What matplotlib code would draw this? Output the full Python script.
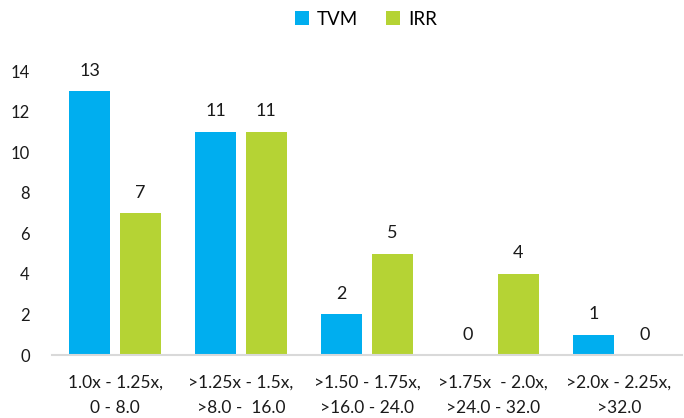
import matplotlib
matplotlib.use("Agg")
import matplotlib.pyplot as plt
import numpy as np

categories = ["1.0x - 1.25x,\n0 - 8.0", ">1.25x - 1.5x,\n>8.0 -  16.0",
              ">1.50 - 1.75x,\n>16.0 - 24.0", ">1.75x  - 2.0x,\n>24.0 - 32.0",
              ">2.0x - 2.25x,\n>32.0"]
tvm = [13, 11, 2, 0, 1]
irr = [7, 11, 5, 4, 0]
yticks = [0, 2, 4, 6, 8, 10, 12, 14]

plt.rcParams['font.family'] = ['Lato', 'DejaVu Sans']

fig = plt.figure(figsize=(6.84, 4.18), dpi=100)
ax = fig.add_axes([52/684, 1-355/418, 630/684, (355-71)/418])

x = np.arange(len(categories))
w = 0.325
off = 0.2
c_tvm = "#00AEEF"
c_irr = "#B5D334"
b1 = ax.bar(x - off, tvm, w, color=c_tvm, label="TVM")
b2 = ax.bar(x + off, irr, w, color=c_irr, label="IRR")

for bars, vals in ((b1, tvm), (b2, irr)):
    for rect, v in zip(bars, vals):
        ax.annotate(str(v), (rect.get_x() + rect.get_width()/2, v),
                    xytext=(0, 9), textcoords="offset points",
                    ha="center", va="bottom", fontsize=13, color="#1a1a1a",
                    annotation_clip=False)

ax.set_xlim(-0.5, len(categories) - 0.5)
ax.set_ylim(0, 14)
ax.set_yticks(yticks)
ax.set_yticklabels([str(t) for t in yticks], fontsize=12, color="#1a1a1a")
ax.set_xticks(x)
ax.set_xticklabels(categories, fontsize=12.5, color="#1a1a1a", linespacing=1.7)
ax.tick_params(axis="both", length=0)
ax.tick_params(axis="y", pad=16)
ax.tick_params(axis="x", pad=14)
for s in ("top", "right", "left"):
    ax.spines[s].set_visible(False)
ax.spines["bottom"].set_color("#D9D9D9")
ax.spines["bottom"].set_linewidth(1.5)

fig.legend(handles=[b1, b2], labels=["TVM", "IRR"], loc="upper center",
           bbox_to_anchor=(0.535, 1.015), ncol=2, frameon=False, fontsize=13.5,
           handlelength=0.75, handleheight=0.75, handletextpad=0.4, columnspacing=1.5)

fig.savefig("out.png", dpi=100)
